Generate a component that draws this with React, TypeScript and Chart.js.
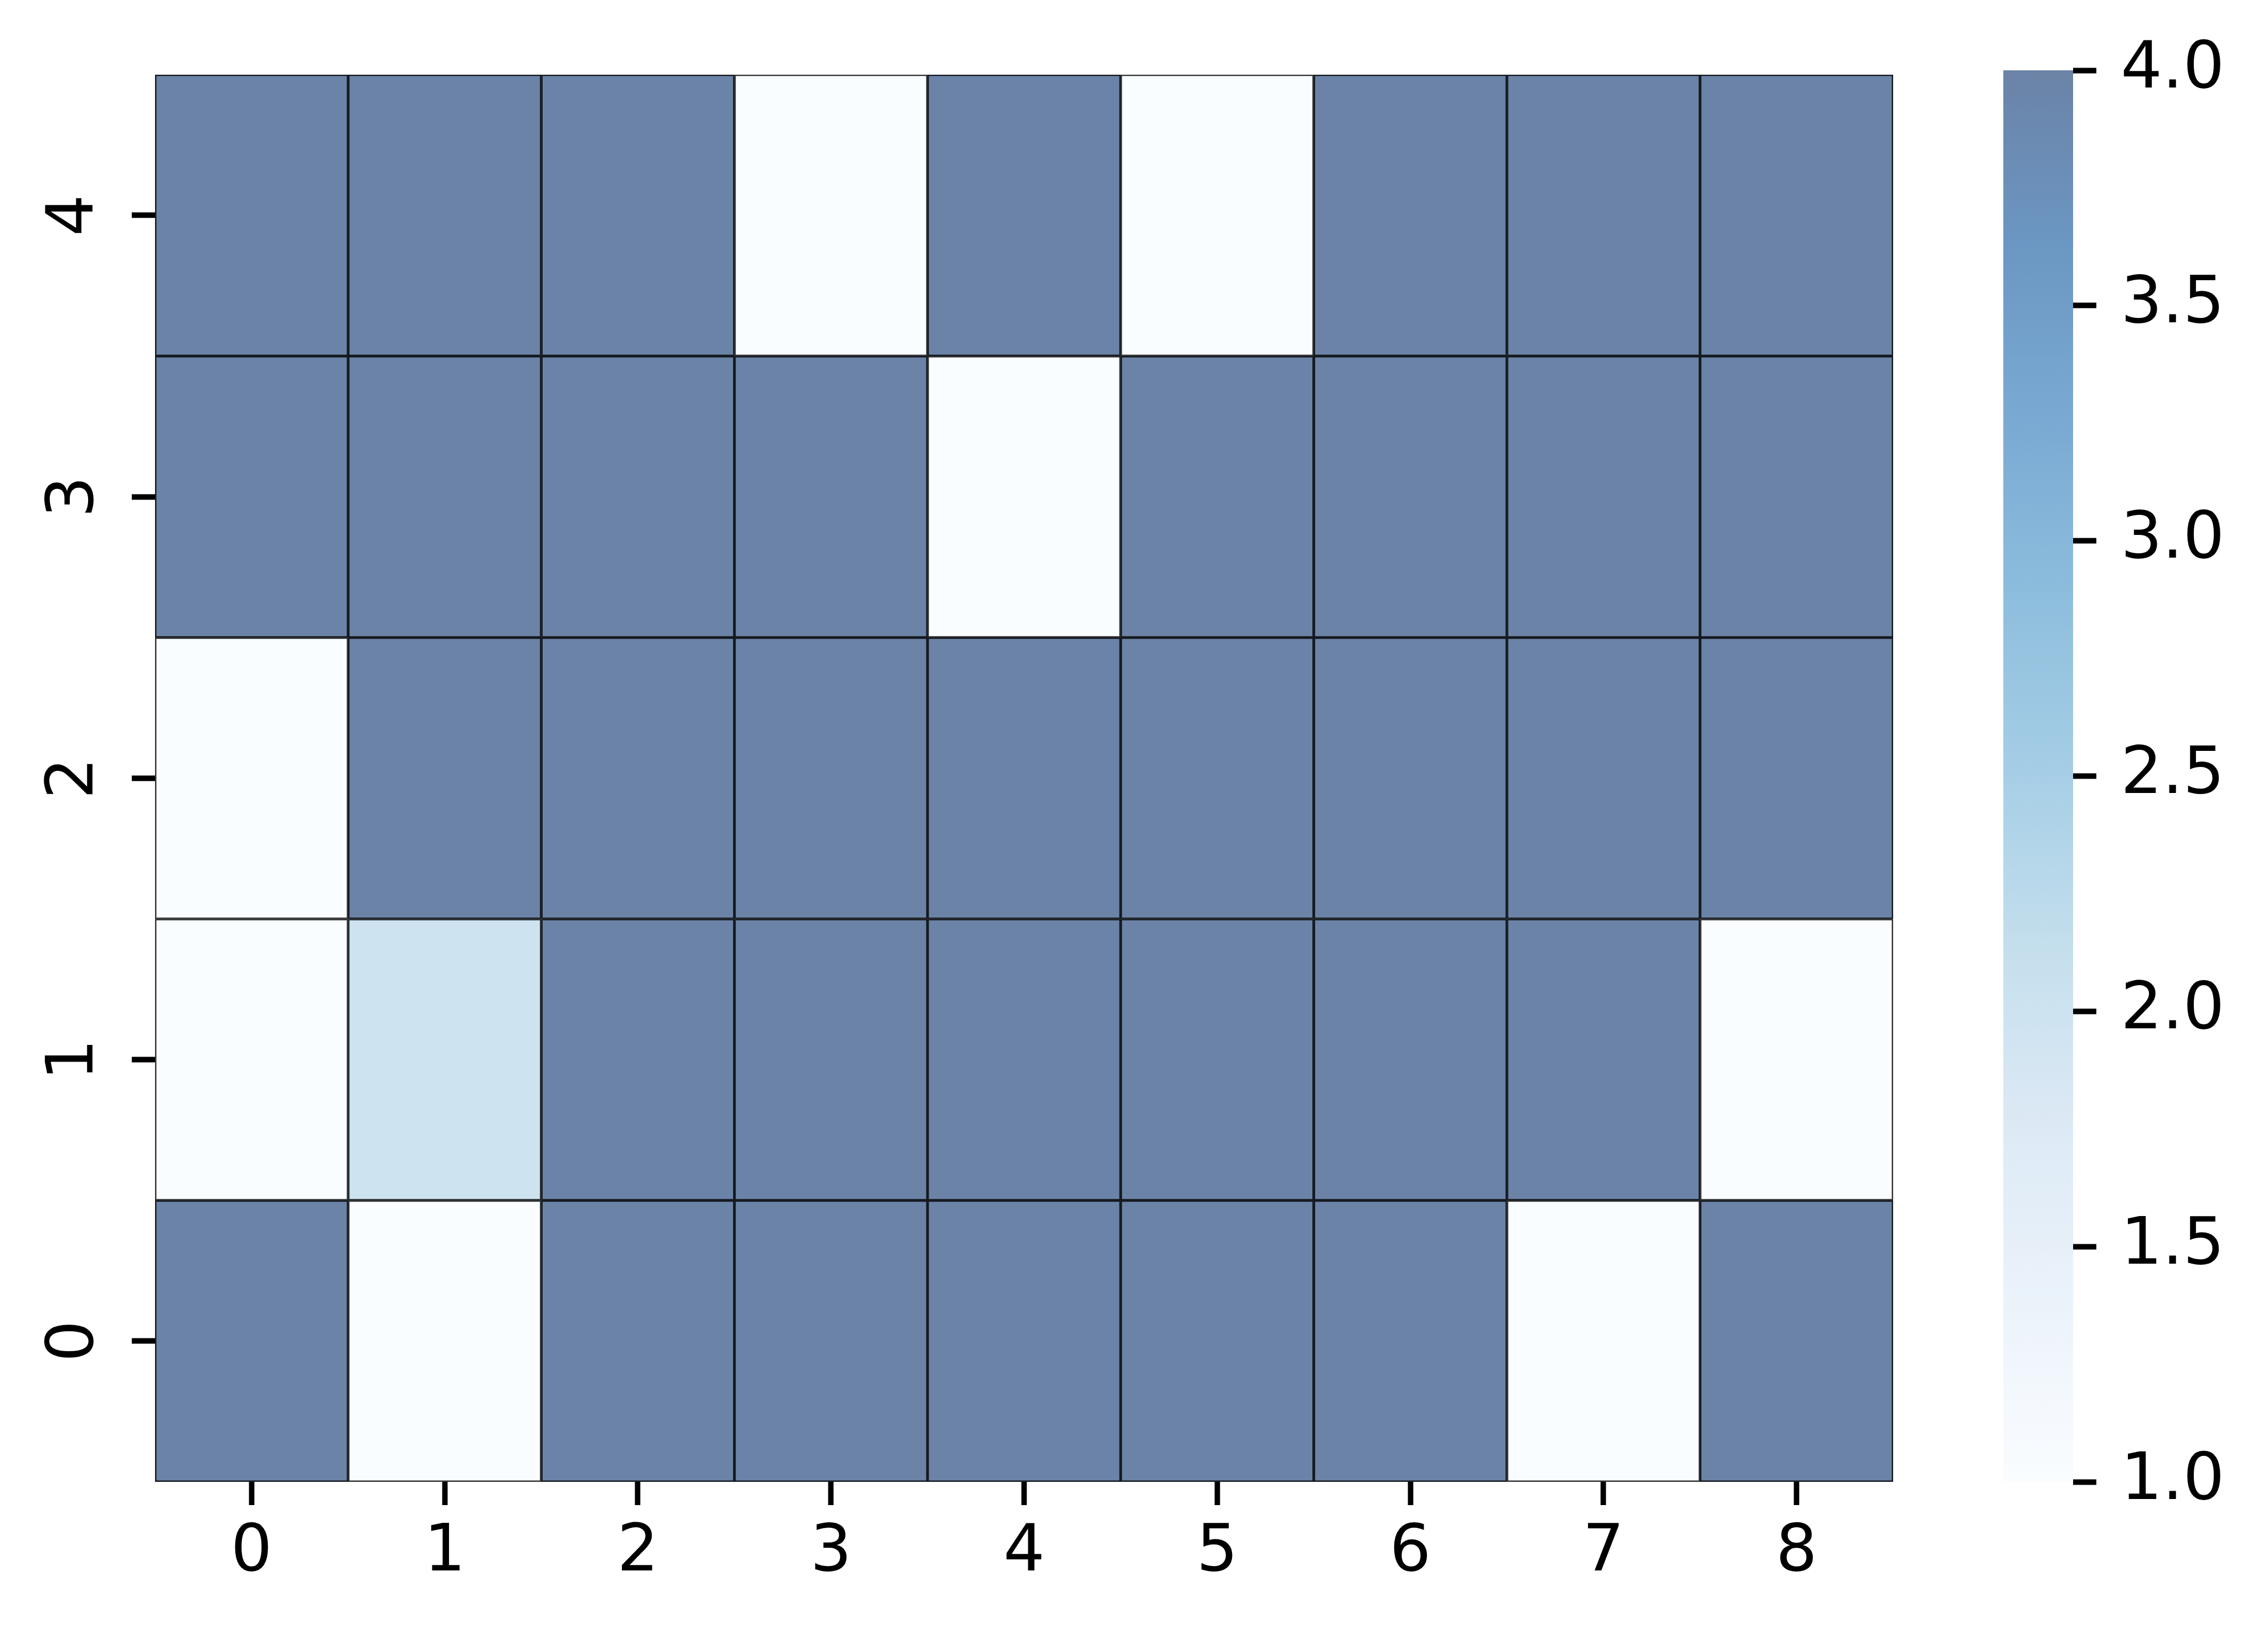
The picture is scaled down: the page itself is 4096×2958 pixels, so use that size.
import React, { useEffect, useRef } from "react";
import { Chart, registerables } from "chart.js";

Chart.register(...registerables);

// ---- data ----
const xLabels = ["0", "1", "2", "3", "4", "5", "6", "7", "8"];
const yLabels = [0, 1, 2, 3, 4];
const row0 = [4, 1, 4, 4, 4, 4, 4, 1, 4];
const row1 = [1, 2, 4, 4, 4, 4, 4, 4, 1];
const row2 = [1, 4, 4, 4, 4, 4, 4, 4, 4];
const row3 = [4, 4, 4, 4, 1, 4, 4, 4, 4];
const row4 = [4, 4, 4, 1, 4, 1, 4, 4, 4];
const rows = [row0, row1, row2, row3, row4];
const cbTicks = [1.0, 1.5, 2.0, 2.5, 3.0, 3.5, 4.0];
const vmin = 1;
const vmax = 4;

// matplotlib "Blues" colormap stops
const blues: number[][] = [
  [247, 251, 255],
  [222, 235, 247],
  [198, 219, 239],
  [158, 202, 225],
  [107, 174, 214],
  [66, 146, 198],
  [33, 113, 181],
  [8, 81, 156],
  [8, 48, 107],
];
const ALPHA = 0.6;

function bluesAt(t: number): number[] {
  const tt = Math.max(0, Math.min(1, t)) * (blues.length - 1);
  const i = Math.min(blues.length - 2, Math.floor(tt));
  const f = tt - i;
  const a = blues[i];
  const b = blues[i + 1];
  return [0, 1, 2].map((k) => a[k] + (b[k] - a[k]) * f);
}
function overWhite(c: number[]): number[] {
  return c.map((v) => 255 * (1 - ALPHA) + v * ALPHA);
}
function rgb(c: number[]): string {
  return `rgb(${Math.round(c[0])},${Math.round(c[1])},${Math.round(c[2])})`;
}
function cellColor(v: number): string {
  return rgb(overWhite(bluesAt((v - vmin) / (vmax - vmin))));
}
function edgeColor(v: number): string {
  const c = overWhite(bluesAt((v - vmin) / (vmax - vmin)));
  return rgb(c.map((x) => x * 0.2));
}

const W = 4096;
const H = 2958;
const FONT = { family: "DejaVu Sans", size: 118 };
const TICK_LEN = 42;
const TICK_W = 9.8;

// layout (target px)
const AREA_LEFT = 280;
const AREA_RIGHT = 3419;
const AREA_TOP = 127;
const AREA_BOTTOM = 2676;
const CB_CANVAS_LEFT = 3500;
const CB_LEFT = 3618;
const CB_RIGHT = 3744;

export default function App() {
  const mainRef = useRef<HTMLCanvasElement | null>(null);
  const cbRef = useRef<HTMLCanvasElement | null>(null);

  useEffect(() => {
    if (!mainRef.current || !cbRef.current) return;

    const main = new Chart(mainRef.current, {
      type: "bar",
      data: {
        labels: xLabels,
        datasets: rows.map((row, r) => ({
          label: String(yLabels[r]),
          data: row.map(() => [yLabels[r] - 0.5, yLabels[r] + 0.5]) as any,
          backgroundColor: row.map((v) => cellColor(v)),
          borderColor: row.map((v) => edgeColor(v)),
          borderWidth: 2.8,
          borderSkipped: false,
          barPercentage: 1,
          categoryPercentage: 1,
          grouped: false,
        })),
      },
      options: {
        responsive: false,
        animation: false,
        devicePixelRatio: 1,
        layout: {
          padding: { left: 0, top: AREA_TOP, right: W - AREA_RIGHT, bottom: 0 },
        },
        plugins: { legend: { display: false }, tooltip: { enabled: false } },
        scales: {
          x: {
            type: "category",
            offset: true,
            grid: {
              display: true,
              drawOnChartArea: false,
              drawTicks: true,
              tickLength: TICK_LEN,
              tickWidth: TICK_W,
              tickColor: "#000",
              offset: false,
            },
            border: { display: false },
            ticks: {
              color: "#000",
              font: FONT,
              padding: 17,
              maxRotation: 0,
              minRotation: 0,
              autoSkip: false,
            },
            afterFit: (s: any) => {
              s.height = H - AREA_BOTTOM;
            },
          },
          y: {
            type: "linear",
            min: yLabels[0] - 0.5,
            max: yLabels[yLabels.length - 1] + 0.5,
            afterBuildTicks: (s: any) => {
              s.ticks = yLabels.map((v) => ({ value: v }));
            },
            grid: {
              display: true,
              drawOnChartArea: false,
              drawTicks: true,
              tickLength: TICK_LEN,
              tickWidth: TICK_W,
              tickColor: "#000",
            },
            border: { display: false },
            ticks: {
              color: "#000",
              font: FONT,
              minRotation: 90,
              maxRotation: 90,
              crossAlign: "center",
              padding: 64,
              callback: (v: any) => String(v),
            },
            afterFit: (s: any) => {
              s.width = AREA_LEFT;
            },
          },
        },
      },
    });

    const cb = new Chart(cbRef.current, {
      type: "bar",
      data: {
        labels: [""],
        datasets: [
          {
            data: [[vmin, vmax]] as any,
            backgroundColor: (ctx: any) => {
              const chart = ctx.chart;
              const ys = chart.scales.y;
              if (!chart.chartArea || !ys) return cellColor(vmax);
              const g = chart.ctx.createLinearGradient(
                0,
                ys.getPixelForValue(vmin),
                0,
                ys.getPixelForValue(vmax)
              );
              for (let i = 0; i <= 64; i++) {
                const t = i / 64;
                g.addColorStop(t, rgb(overWhite(bluesAt(t))));
              }
              return g;
            },
            borderWidth: 0,
            barPercentage: 1,
            categoryPercentage: 1,
          },
        ],
      },
      options: {
        responsive: false,
        animation: false,
        devicePixelRatio: 1,
        layout: {
          padding: {
            left: CB_LEFT - CB_CANVAS_LEFT,
            top: AREA_TOP,
            right: 0,
            bottom: H - AREA_BOTTOM,
          },
        },
        plugins: { legend: { display: false }, tooltip: { enabled: false } },
        scales: {
          x: { display: false, offset: true },
          y: {
            type: "linear",
            position: "right",
            min: vmin,
            max: vmax,
            afterBuildTicks: (s: any) => {
              s.ticks = cbTicks.map((v) => ({ value: v }));
            },
            grid: {
              display: true,
              drawOnChartArea: false,
              drawTicks: true,
              tickLength: TICK_LEN,
              tickWidth: TICK_W,
              tickColor: "#000",
            },
            border: { display: false },
            ticks: {
              color: "#000",
              font: FONT,
              padding: 44,
              callback: (v: any) => Number(v).toFixed(1),
            },
            afterFit: (s: any) => {
              s.width = W - CB_RIGHT;
            },
          },
        },
      },
    });

    return () => {
      main.destroy();
      cb.destroy();
    };
  }, []);

  return (
    <div
      style={{
        position: "absolute",
        left: 0,
        top: 0,
        width: W,
        height: H,
        background: "#fff",
        overflow: "hidden",
      }}
    >
      <canvas
        ref={mainRef}
        width={W}
        height={H}
        style={{ position: "absolute", left: 0, top: 0, width: W, height: H }}
      />
      <canvas
        ref={cbRef}
        width={W - CB_CANVAS_LEFT}
        height={H}
        style={{
          position: "absolute",
          left: CB_CANVAS_LEFT,
          top: 0,
          width: W - CB_CANVAS_LEFT,
          height: H,
        }}
      />
    </div>
  );
}
